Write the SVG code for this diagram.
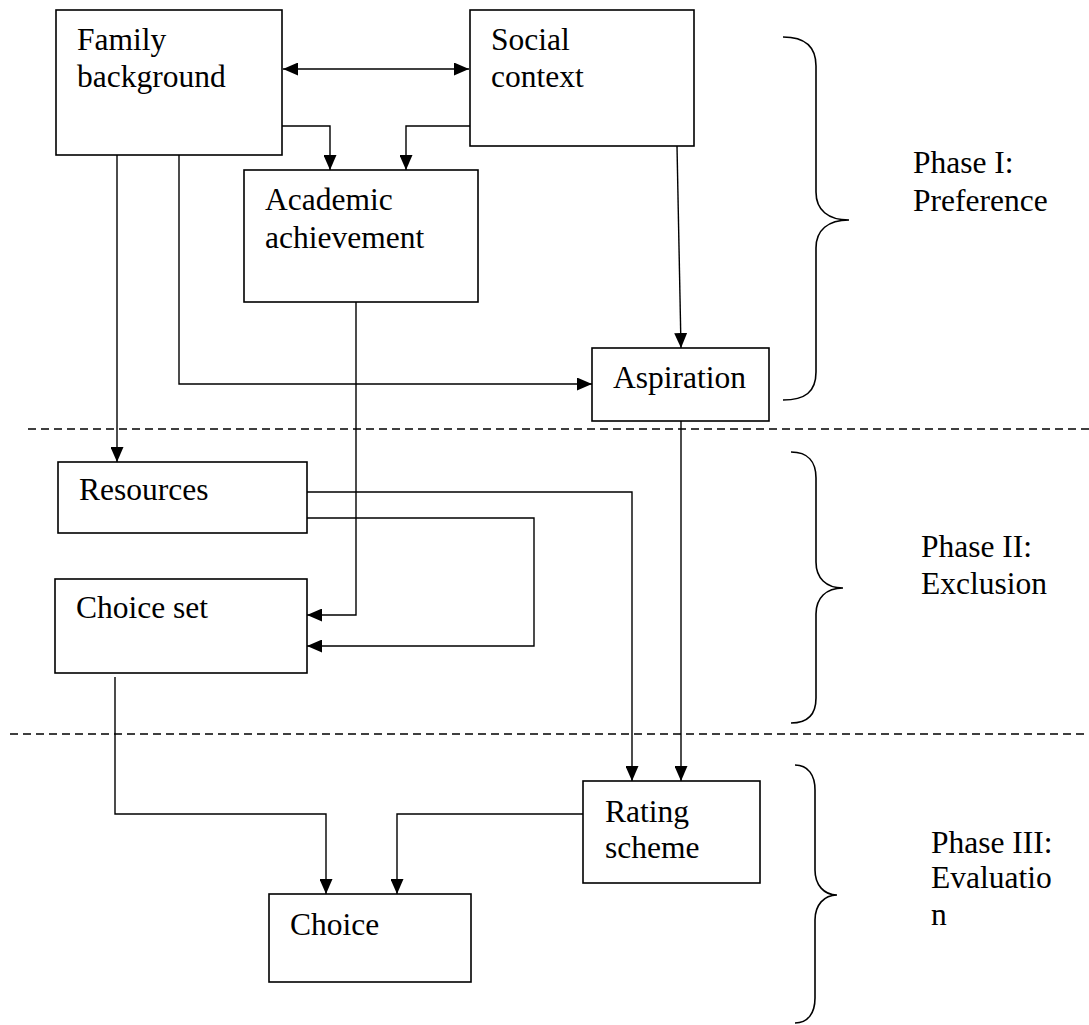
<svg xmlns="http://www.w3.org/2000/svg" width="1089" height="1025" viewBox="0 0 1089 1025">
<style>
.box{fill:#fff;stroke:#000;stroke-width:1.6}
.t{font-family:"Liberation Serif","Times New Roman",serif;font-size:31.5px;fill:#000}
.c{fill:none;stroke:#000;stroke-width:1.4}
.dash{fill:none;stroke:#000;stroke-width:1.4;stroke-dasharray:8,5}
.brace{fill:none;stroke:#000;stroke-width:1.6}
</style>
<defs>
<marker id="ah" viewBox="0 0 15 13" refX="15" refY="6.5" markerWidth="15" markerHeight="13" markerUnits="userSpaceOnUse" orient="auto">
<path d="M0,0 L15,6.5 L0,13 z" fill="#000"/>
</marker>
<marker id="as" viewBox="0 0 15 13" refX="0" refY="6.5" markerWidth="15" markerHeight="13" markerUnits="userSpaceOnUse" orient="auto">
<path d="M15,0 L0,6.5 L15,13 z" fill="#000"/>
</marker>
</defs>

<g id="separators">
<line class="dash" x1="28" y1="429" x2="1089" y2="429"/>
<line class="dash" x1="10" y1="734" x2="1089" y2="734"/>
</g>

<g id="connectors">
<line class="c" x1="283" y1="69" x2="469" y2="69" marker-start="url(#as)" marker-end="url(#ah)"/>
<polyline class="c" points="282,126 330,126 330,170" marker-end="url(#ah)"/>
<polyline class="c" points="470,126 406,126 406,170" marker-end="url(#ah)"/>
<line class="c" x1="117" y1="155" x2="117" y2="462" marker-end="url(#ah)"/>
<polyline class="c" points="179,155 179,384 592,384" marker-end="url(#ah)"/>
<line class="c" x1="677" y1="146" x2="681" y2="348" marker-end="url(#ah)"/>
<polyline class="c" points="356,302 356,615 307,615" marker-end="url(#ah)"/>
<polyline class="c" points="307,518 534,518 534,646 307,646" marker-end="url(#ah)"/>
<polyline class="c" points="307,492 632,492 632,781" marker-end="url(#ah)"/>
<line class="c" x1="681" y1="421" x2="681" y2="781" marker-end="url(#ah)"/>
<polyline class="c" points="115,677 115,814 326,814 326,894" marker-end="url(#ah)"/>
<polyline class="c" points="583,814 397,814 397,894" marker-end="url(#ah)"/>
</g>

<g id="family">
<rect class="box" x="56" y="10" width="226" height="145"/>
<text class="t" x="77" y="50">Family</text>
<text class="t" x="77" y="87">background</text>
</g>
<g id="social">
<rect class="box" x="470" y="10" width="224" height="136"/>
<text class="t" x="491" y="50">Social</text>
<text class="t" x="491" y="87">context</text>
</g>
<g id="academic">
<rect class="box" x="244" y="170" width="234" height="132"/>
<text class="t" x="265" y="210">Academic</text>
<text class="t" x="265" y="248">achievement</text>
</g>
<g id="aspiration">
<rect class="box" x="592" y="348" width="177" height="73"/>
<text class="t" x="613" y="388">Aspiration</text>
</g>
<g id="resources">
<rect class="box" x="58" y="462" width="249" height="71"/>
<text class="t" x="79" y="500">Resources</text>
</g>
<g id="choiceset">
<rect class="box" x="55" y="579" width="252" height="94"/>
<text class="t" x="76" y="618">Choice set</text>
</g>
<g id="rating">
<rect class="box" x="583" y="781" width="177" height="102"/>
<text class="t" x="605" y="822">Rating</text>
<text class="t" x="605" y="858">scheme</text>
</g>
<g id="choice">
<rect class="box" x="269" y="894" width="202" height="88"/>
<text class="t" x="290" y="935">Choice</text>
</g>

<g id="phase1">
<path class="brace" d="M783,37 C805,37 816,46 816,66 L816,192 C816,210 828,220 849,220 C828,220 816,230 816,248 L816,372 C816,392 805,400 783,400"/>
<text class="t" x="913" y="173">Phase I:</text>
<text class="t" x="913" y="211">Preference</text>
</g>
<g id="phase2">
<path class="brace" d="M791,452 C808,452 816,462 816,478 L816,562 C816,578 826,588 843,588 C826,588 816,598 816,614 L816,698 C816,714 808,723 791,723"/>
<text class="t" x="921" y="557">Phase II:</text>
<text class="t" x="921" y="594">Exclusion</text>
</g>
<g id="phase3">
<path class="brace" d="M795,765 C808,765 815,775 815,790 L815,870 C815,885 824,895 837,895 C824,895 815,905 815,920 L815,998 C815,1013 808,1023 795,1023"/>
<text class="t" x="931" y="853">Phase III:</text>
<text class="t" x="931" y="888">Evaluatio</text>
<text class="t" x="931" y="925">n</text>
</g>
</svg>
